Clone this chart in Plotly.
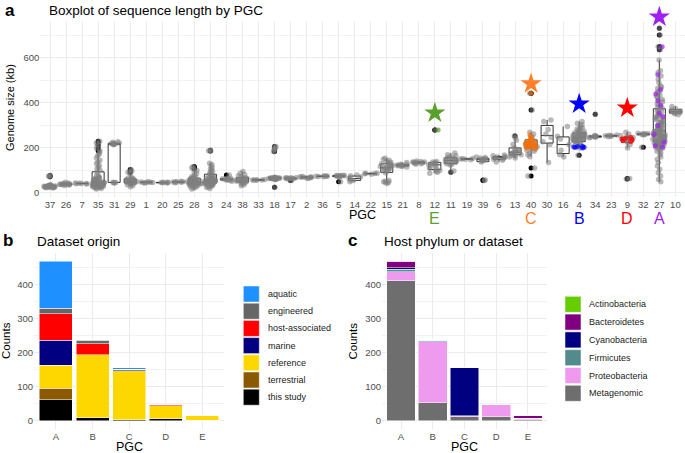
import plotly.graph_objects as go

# -------------- DATA: panel a (genome size in kb, per PGC) -------------- #
pgc_order = ["37", "26", "7", "35", "31", "29", "1", "20", "25", "28", "3", "24", "38", "33",
             "18", "17", "2", "36", "5", "14", "22", "15", "21", "8", "12", "11", "19", "39",
             "6", "13", "40", "30", "16", "4", "34", "23", "9", "32", "27", "10"]

g37 = [22, 23, 24, 25, 25, 26, 26, 27, 27, 28, 28, 29, 29, 30, 30, 31, 31, 32, 33, 34, 35, 36, 72, 75, 78]
g26 = [33, 35, 36, 37, 38, 38, 39, 40, 40, 41, 42, 43, 47]
g7 = [40, 41, 42, 42, 43, 44]
g35 = [18, 20, 22, 24, 25, 26, 27, 28, 29, 30, 31, 32, 33, 34, 35, 35, 36, 37, 38, 38, 39, 40, 40, 41,
       42, 43, 44, 45, 45, 46, 47, 48, 49, 50, 51, 52, 54, 55, 57, 58, 60, 62, 64, 66, 68, 70, 75, 80,
       92, 100, 108, 115, 122, 130, 138, 145, 155, 165, 172, 180, 188, 200, 212, 222, 230]
g31 = [44, 45, 46, 47, 214, 216, 217, 218, 219, 220, 222, 225, 228]
g29 = [28, 32, 36, 40, 42, 43, 44, 45, 46, 47, 48, 49, 50, 51, 52, 53, 54, 55, 56, 58, 60, 62, 64, 66,
       70, 86, 92, 98, 104]
g1 = [44, 45, 46, 47, 48, 49, 50]
g20 = [44, 45, 46, 46, 47, 48]
g25 = [45, 47, 48, 49, 50, 51, 52]
g28 = [18, 22, 25, 28, 30, 32, 34, 35, 36, 38, 39, 40, 41, 42, 43, 44, 45, 46, 47, 48, 49, 50, 51, 52,
       53, 54, 55, 56, 58, 60, 62, 64, 66, 68, 70, 73, 78, 85, 92, 100, 108, 112, 117]
g3 = [20, 24, 28, 30, 32, 34, 36, 38, 40, 41, 42, 43, 44, 45, 46, 47, 48, 49, 50, 51, 52, 53, 54, 55,
      56, 57, 58, 60, 62, 64, 66, 68, 70, 72, 75, 78, 82, 86, 90, 95, 100, 106, 112, 120, 126, 132,
      186, 188, 190]
g24 = [52, 55, 57, 58, 60, 61, 62, 63, 64, 65, 80]
g38 = [32, 36, 40, 44, 46, 48, 50, 52, 54, 55, 56, 58, 60, 62, 64, 66, 68, 72, 76, 82, 88, 95]
g33 = [56, 57, 58, 58, 59, 60]
g18 = [25, 60, 61, 62, 62, 63, 63, 64, 64, 64, 65, 65, 65, 66, 66, 66, 67, 67, 68, 69, 70,
       184, 190, 195, 200, 204, 206]
g17 = [55, 62, 63, 64, 65, 65, 66, 66, 67, 68]
g2 = [64, 66, 68, 69, 70, 70, 71, 72, 73]
g36 = [72, 73, 74, 74, 75, 76]
g5 = [50, 72, 73, 74, 75, 76, 76, 77, 78, 79]
g14 = [50, 55, 58, 64, 72, 76, 80]
g22 = [83, 85, 86, 87, 88]
g15 = [42, 45, 48, 50, 52, 55, 90, 95, 100, 102, 105, 108, 110, 112, 115, 118, 120, 122, 125, 128,
       130, 132, 136, 140, 145, 150, 154]
g21 = [115, 118, 120, 121, 122, 124, 125, 126, 128, 135]
g8 = [128, 130, 132, 134, 135, 136, 137, 138, 140, 142]
g12 = [88, 92, 95, 100, 105, 110, 115, 120, 125, 128, 130, 132, 135, 138, 140, 280]
g11 = [92, 98, 124, 128, 130, 132, 135, 138, 140, 142, 145, 148, 150, 152, 155, 158, 160, 165, 170, 178]
g19 = [148, 150, 151, 152, 153]
g39 = [55, 58, 138, 142, 145, 148, 150, 152, 155, 158, 160]
g6 = [138, 145, 150, 152, 155, 158, 160, 162, 165, 169]
g13 = [155, 160, 165, 168, 170, 172, 175, 178, 180, 182, 185, 188, 191, 200, 215, 234, 245, 253]
g40 = [75, 111, 161, 170, 178, 185, 190, 195, 200, 205, 210, 215, 220, 225, 230, 240, 250, 262, 270, 369, 443]
g30 = [135, 215, 228, 248, 262, 282, 318, 324]
g16 = [160, 170, 190, 215, 240, 252, 295]
g4 = [167, 200, 212, 220, 225, 228, 230, 232, 234, 236, 238, 240, 242, 244, 246, 248, 250, 252, 254,
      256, 258, 260, 262, 264, 266, 270, 274, 278, 284, 290, 296, 304, 310, 317,
      226, 231, 237, 243, 249, 255, 261, 268, 276, 288]
g34 = [245, 247, 248, 250, 251, 252, 253, 255, 350]
g23 = [250, 252, 254, 255, 256, 258]
g9 = [62, 64, 200, 215, 225, 232, 238, 242, 246, 250, 255, 262, 270]
g32 = [203, 258, 260, 261, 262, 263, 264, 265]
g27 = [50, 60, 75, 90, 105, 120, 135, 150, 160, 170, 178, 185, 190, 195, 200, 203, 206, 209, 212, 215,
       218, 220, 222, 224, 226, 228, 230, 232, 234, 236, 238, 240, 242, 244, 246, 248, 250, 252, 255,
       258, 260, 262, 265, 268, 270, 273, 276, 280, 284, 288, 292, 296, 300, 305, 310, 315, 320, 326,
       332, 338, 345, 352, 360, 368, 376, 385, 395, 405, 415, 425, 435, 445, 455, 465, 475, 490, 505,
       520, 535, 543, 591, 636, 650, 702, 732,
       208, 214, 221, 227, 233, 239, 245, 251, 257, 264, 271, 278, 286, 294, 302, 312, 322, 335, 348,
       362, 378, 392, 410, 430, 450, 470, 212, 230, 248, 266, 290, 318, 340]
g10 = [347, 352, 355, 358, 360, 362, 365, 370, 375, 384]

# coloured points of the highlighted PGCs
hl12 = [280]
hl40 = [198, 200, 202, 204, 205, 206, 208, 210, 212, 214, 215, 216, 218, 220, 222, 224, 226, 228,
        232, 236, 240, 245, 250, 258, 443]
hl4 = [200, 202, 203, 205, 206, 208]
hl9 = [228, 232, 236, 240, 244, 248]
hl27 = [203, 210, 225, 260, 300, 340, 355, 390, 410, 440, 460, 525, 650]

star_pgc = ["12", "40", "4", "9", "27"]
star_size_kb = [355, 485, 395, 378, 782]
star_label = ["E", "C", "B", "D", "A"]
star_color = ["#5AA02C", "#FF7F2A", "#0000FF", "#FF0000", "#A020F0"]

# -------------- DATA: panels b and c (counts per PGC) -------------- #
pgc_letters = ["A", "B", "C", "D", "E"]

# dataset origin, listed bottom -> top of the stack
origin_names = ["this study", "terrestrial", "reference", "marine", "host-associated", "engineered", "aquatic"]
this_study = [63, 10, 4, 7, 2]
terrestrial = [33, 0, 0, 0, 0]
reference = [67, 184, 144, 38, 14]
marine = [73, 0, 4, 0, 0]
host_associated = [78, 32, 0, 3, 0]
engineered = [17, 10, 0, 0, 0]
aquatic = [137, 2, 4, 0, 0]
origin_colors = ["#000000", "#8B5A00", "#FFD700", "#000080", "#FF0000", "#666666", "#1E90FF"]

# host phylum, bottom -> top
host_names = ["Metagenomic", "Proteobacteria", "Firmicutes", "Cyanobacteria", "Bacteroidetes", "Actinobacteria"]
metagenomic = [411, 54, 12, 12, 4]
proteobacteria = [26, 178, 4, 36, 4]
firmicutes = [8, 5, 0, 0, 0]
cyanobacteria = [4, 0, 140, 0, 0]
bacteroidetes = [19, 1, 0, 0, 8]
actinobacteria = [0, 0, 0, 0, 0]
host_colors = ["#6E6E6E", "#EE9AEE", "#528B8B", "#000080", "#800080", "#66CD00"]

# -------------- HELPERS -------------- #
FONT = "Liberation Sans, Arial, sans-serif"
W, H = 685, 453
GRID = "#EBEBEB"
TICK = "#4D4D4D"

# panel a vertical scale: value range shown and its pixel span
A_YMIN, A_YMAX = -18, 764
A_TOP, A_BOT = 21, 197


def px(x):
    return x / W


def py(y):
    return 1 - y / H


def text(fig, x, y, s, size, xanchor="center", bold=False, color="black", angle=0):
    fig.add_annotation(x=px(x), y=py(y), xref="paper", yref="paper", text=f"<b>{s}</b>" if bold else s,
                       showarrow=False, xanchor=xanchor, yanchor="middle", textangle=angle,
                       font=dict(family=FONT, size=size, color=color))


def legend(fig, x, y0, step, names, colors, tx):
    for i, (n, c) in enumerate(zip(names, colors)):
        yc = y0 + i * step
        fig.add_shape(type="rect", xref="paper", yref="paper", x0=px(x), x1=px(x + 16),
                      y0=py(yc - 8), y1=py(yc + 8), fillcolor=c, line=dict(color="white", width=0.5))
        text(fig, tx, yc, n, 9, xanchor="left", color="#1A1A1A")


# -------------- FIGURE -------------- #
sizes = {p: globals()["g" + p] for p in pgc_order}
highlight = {"12": hl12, "40": hl40, "4": hl4, "9": hl9, "27": hl27}
hl_color = dict(zip(star_pgc, star_color))
hl_color["40"] = "#F07010"

fig = go.Figure()

# boxplot with black outliers
bx, by = [], []
for p in pgc_order:
    vals = sizes[p] + highlight.get(p, [])
    bx += [p] * len(vals)
    by += vals
fig.add_trace(go.Box(x=bx, y=by, boxpoints="outliers", width=0.75, fillcolor="white", whiskerwidth=0,
                     line=dict(color="#333333", width=1), marker=dict(color="black", size=5),
                     showlegend=False, xaxis="x", yaxis="y"))

# grey jitter
jx, jy = [], []
for p in pgc_order:
    jx += [p] * len(sizes[p])
    jy += sizes[p]
fig.add_trace(go.Box(x=jx, y=jy, boxpoints="all", jitter=1, pointpos=0, width=0.85,
                     fillcolor="rgba(0,0,0,0)", line=dict(color="rgba(0,0,0,0)", width=0),
                     marker=dict(color="rgba(128,128,128,0.55)", size=5.5),
                     showlegend=False, xaxis="x", yaxis="y"))

# coloured jitter for highlighted PGCs
for p, vals in highlight.items():
    fig.add_trace(go.Box(x=[p] * len(vals), y=vals, boxpoints="all", jitter=1, pointpos=0, width=0.8,
                         fillcolor="rgba(0,0,0,0)", line=dict(color="rgba(0,0,0,0)", width=0),
                         marker=dict(color=hl_color[p], size=5, opacity=0.7),
                         showlegend=False, xaxis="x", yaxis="y"))

# stars: hidden x5/y4 axes with the same scale as panel a but a taller span,
# so the top star can sit above the panel like in the original
star_top = 5
star_ymax = A_YMIN + (A_YMAX - A_YMIN) * (A_BOT - star_top) / (A_BOT - A_TOP)
fig.add_trace(go.Scatter(x=star_pgc, y=star_size_kb, mode="markers",
                         marker=dict(symbol="star", size=16, color=star_color, line=dict(width=0)),
                         showlegend=False, xaxis="x5", yaxis="y4"))

# stacked bars
for n, c, v in zip(origin_names, origin_colors,
                   [this_study, terrestrial, reference, marine, host_associated, engineered, aquatic]):
    fig.add_trace(go.Bar(x=pgc_letters, y=v, name=n, marker=dict(color=c, line=dict(color="white", width=0.5)),
                         showlegend=False, xaxis="x2", yaxis="y2"))
for n, c, v in zip(host_names, host_colors,
                   [metagenomic, proteobacteria, firmicutes, cyanobacteria, bacteroidetes, actinobacteria]):
    fig.add_trace(go.Bar(x=pgc_letters, y=v, name=n, marker=dict(color=c, line=dict(color="white", width=0.5)),
                         showlegend=False, xaxis="x3", yaxis="y3"))

axis_common = dict(showgrid=True, gridcolor=GRID, gridwidth=1, zeroline=False, showline=False, ticks="",
                   automargin=False, tickfont=dict(family=FONT, size=9.5, color=TICK), fixedrange=True)
hidden = dict(visible=False, showgrid=False, zeroline=False, automargin=False, fixedrange=True)

fig.update_layout(
    width=W, height=H, margin=dict(l=0, r=0, t=0, b=0),
    paper_bgcolor="white", plot_bgcolor="rgba(0,0,0,0)",
    boxmode="overlay", barmode="stack", bargap=0.1,
    xaxis=dict(axis_common, domain=[px(40.4), 1.0], type="category", categoryorder="array",
               categoryarray=pgc_order, range=[-0.6, 39.6], anchor="y"),
    yaxis=dict(axis_common, domain=[py(A_BOT), py(A_TOP)], range=[A_YMIN, A_YMAX], tickvals=[0, 200, 400, 600],
               minor=dict(tickvals=[100, 300, 500, 700], showgrid=True, gridcolor="#F2F2F2"), anchor="x"),
    xaxis5=dict(hidden, domain=[px(40.4), 1.0], type="category", categoryorder="array",
                categoryarray=pgc_order, range=[-0.6, 39.6], anchor="y4"),
    yaxis4=dict(hidden, domain=[py(A_BOT), py(star_top)], range=[A_YMIN, star_ymax], anchor="x5"),
    xaxis2=dict(axis_common, domain=[px(34), px(224.3)], type="category", categoryorder="array",
                categoryarray=pgc_letters, range=[-0.6, 4.6], anchor="y2"),
    yaxis2=dict(axis_common, domain=[py(429), py(253)], range=[-23.5, 492.5], tickvals=[0, 100, 200, 300, 400],
                minor=dict(tickvals=[50, 150, 250, 350, 450], showgrid=True, gridcolor="#F2F2F2"), anchor="x2"),
    xaxis3=dict(axis_common, domain=[px(382), px(547)], type="category", categoryorder="array",
                categoryarray=pgc_letters, range=[-0.6, 4.6], anchor="y3"),
    yaxis3=dict(axis_common, domain=[py(429), py(253)], range=[-23.5, 492.5], tickvals=[0, 100, 200, 300, 400],
                minor=dict(tickvals=[50, 150, 250, 350, 450], showgrid=True, gridcolor="#F2F2F2"), anchor="x3"),
)

# PGC letters under panel a (category index, so numeric-looking names are not misread)
for p, lab, c in zip(star_pgc, star_label, star_color):
    fig.add_annotation(x=pgc_order.index(p), y=py(218), xref="x", yref="paper", text=lab, showarrow=False,
                       yanchor="middle", font=dict(family=FONT, size=16, color=c))

# titles and axis titles
text(fig, 3, 10, "a", 17, xanchor="left", bold=True)
text(fig, 47, 10, "Boxplot of sequence length by PGC", 13.5, xanchor="left")
text(fig, 10, 108, "Genome size (kb)", 11, angle=-90)
text(fig, 362, 214.5, "PGC", 12.5)

text(fig, 1, 240, "b", 17, xanchor="left", bold=True)
text(fig, 35, 241, "Dataset origin", 13.5, xanchor="left")
text(fig, 6, 341, "Counts", 11.5, angle=-90)
text(fig, 129, 447, "PGC", 12.5)

text(fig, 346, 240, "c", 17, xanchor="left", bold=True)
text(fig, 382, 241, "Host phylum or dataset", 13.5, xanchor="left")
text(fig, 352.5, 341, "Counts", 11.5, angle=-90)
text(fig, 464, 447, "PGC", 12.5)

# legends (drawn top -> bottom as in the original)
legend(fig, 243.3, 294, 17.2, origin_names[::-1], origin_colors[::-1], 265.5)
legend(fig, 565, 304.3, 17.8, host_names[::-1][:5] + ["Metagenomic"],
       host_colors[::-1][:5] + ["#6E6E6E"], 587)

# drop the page's default body margin so the 685x453 figure fills the window
fig.write_html("out.html", config={"displayModeBar": False},
               post_script="document.body.style.margin='0';")
